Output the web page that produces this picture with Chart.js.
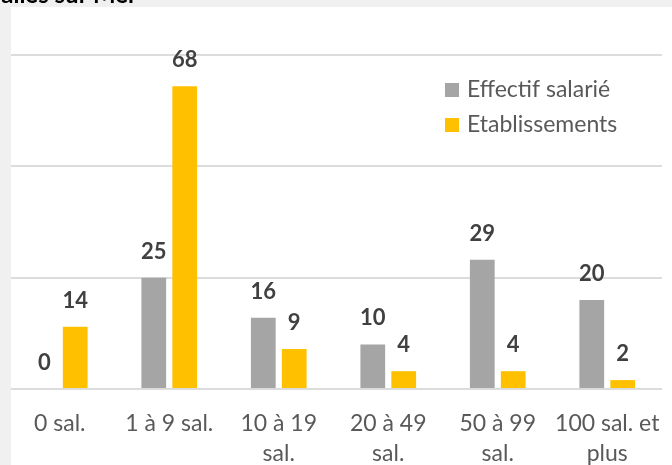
<!DOCTYPE html>
<html>
<head>
<meta charset="utf-8">
<script src="https://cdn.jsdelivr.net/npm/chart.js@4.4.1/dist/chart.umd.min.js"></script>
<style>
  html, body { margin: 0; padding: 0; }
  body { width: 672px; height: 465px; background: #f0f0f0; position: relative; overflow: hidden; }
  #panel { position: absolute; left: 11px; top: 7px; right: 0; bottom: 0; background: #fff; }
  #wrap { position: absolute; left: 0; top: 0; width: 672px; height: 465px; }
  .strip { position: absolute; background: #f0f0f0; }
  #title { position: absolute; right: 535px; top: -18px; white-space: nowrap;
           font: bold 24px Lato, sans-serif; color: #000; line-height: 1; }
</style>
</head>
<body>
<div id="panel"></div>
<div id="wrap"><canvas id="chart" width="672" height="465"></canvas></div>
<div class="strip" style="left:0;top:0;width:11px;height:465px"></div>
<div class="strip" style="left:0;top:0;width:672px;height:7px"></div>
<div id="title">Salles sur Mer</div>
<script>
// --------------------
// Data
// --------------------
const categories = [
    ['0 sal.'],
    ['1 à 9 sal.'],
    ['10 à 19', 'sal.'],
    ['20 à 49', 'sal.'],
    ['50 à 99', 'sal.'],
    ['100 sal. et', 'plus']
];
const effectifSalarie = [0, 25, 16, 10, 29, 20];
const etablissements = [14, 68, 9, 4, 4, 2];
const seriesNames = ['Effectif salarié', 'Etablissements'];
const yMax = 75;
const yStep = 25;

const GREY = '#a5a5a5';
const YELLOW = '#ffc000';
const TEXT = '#595959';

// Bold value labels above each bar
const valueLabels = {
    id: 'valueLabels',
    afterDatasetsDraw(chart) {
        const ctx = chart.ctx;
        ctx.save();
        ctx.font = 'bold 22px Lato, sans-serif';
        ctx.fillStyle = '#404040';
        ctx.textAlign = 'center';
        ctx.textBaseline = 'alphabetic';
        chart.data.datasets.forEach((ds, i) => {
            chart.getDatasetMeta(i).data.forEach((bar, j) => {
                ctx.fillText(String(ds.data[j]), bar.x, bar.y - 19);
            });
        });
        ctx.restore();
    }
};

// Legend drawn inside the plot, top-right, stacked
const insideLegend = {
    id: 'insideLegend',
    afterDraw(chart) {
        const ctx = chart.ctx;
        const area = chart.chartArea;
        const x = area.right - 217;
        let y = area.top + 28;
        ctx.save();
        ctx.font = '23px Lato, sans-serif';
        ctx.textBaseline = 'alphabetic';
        ctx.textAlign = 'left';
        chart.data.datasets.forEach(ds => {
            ctx.fillStyle = ds.backgroundColor;
            ctx.fillRect(x, y, 14, 14);
            ctx.fillStyle = TEXT;
            ctx.fillText(ds.label, x + 22, y + 14);
            y += 35;
        });
        ctx.restore();
    }
};

new Chart(document.getElementById('chart'), {
    type: 'bar',
    data: {
        labels: categories,
        datasets: [
            { label: seriesNames[0], data: effectifSalarie, backgroundColor: GREY },
            { label: seriesNames[1], data: etablissements, backgroundColor: YELLOW }
        ]
    },
    options: {
        responsive: false,
        animation: false,
        events: [],
        datasets: { bar: { categoryPercentage: 0.565, barPercentage: 0.8 } },
        layout: { padding: { left: 5, right: 7, top: 55, bottom: 0 } },
        plugins: { legend: { display: false }, tooltip: { enabled: false } },
        scales: {
            x: {
                grid: { display: false },
                border: { display: false },
                ticks: {
                    color: TEXT,
                    font: { family: 'Lato, sans-serif', size: 23, lineHeight: '30px' },
                    padding: 12,
                    maxRotation: 0,
                    autoSkip: false
                },
                afterFit(scale) { scale.height = 76; }
            },
            y: {
                min: 0,
                max: yMax,
                ticks: { display: false, stepSize: yStep },
                grid: { color: '#dcdcdc', lineWidth: 2, drawTicks: false },
                border: { display: false },
                afterFit(scale) { scale.width = 0; }
            }
        }
    },
    plugins: [valueLabels, insideLegend]
});
</script>
</body>
</html>
